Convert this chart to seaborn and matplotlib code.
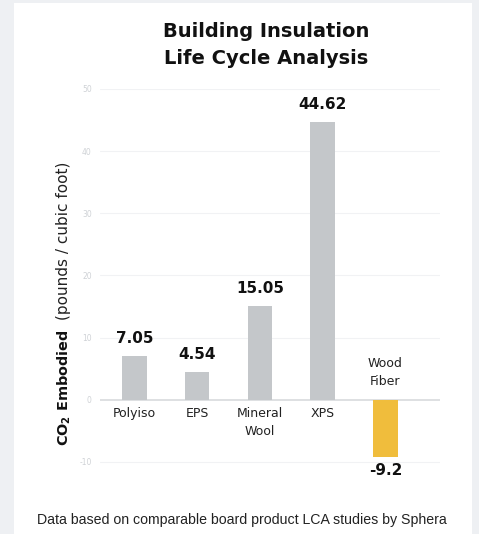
import matplotlib.pyplot as plt
import seaborn as sns
import pandas as pd
from matplotlib.patches import Rectangle

materials = ["Polyiso", "EPS", "Mineral\nWool", "XPS", "Wood\nFiber"]
co2 = [7.05, 4.54, 15.05, 44.62, -9.2]
value_labels = ["7.05", "4.54", "15.05", "44.62", "-9.2"]
bar_colors = ["#c4c7ca", "#c4c7ca", "#c4c7ca", "#c4c7ca", "#f0bd3c"]
yticks = [-10, 0, 10, 20, 30, 40, 50]

df = pd.DataFrame({"material": materials, "co2": co2})

sns.set_style("white")
plt.rcParams['font.family'] = ['DejaVu Sans']

fig = plt.figure(figsize=(4.79, 5.34), dpi=100, facecolor="#eef0f3")
# white card
fig.patches.append(Rectangle((14/479, 0), 458/479, 531/534, transform=fig.transFigure,
                             facecolor="white", edgecolor="none", zorder=-5))

ax = fig.add_axes([100/479, (534-470)/534, 340/479, (470-89)/534])
ax.set_facecolor("none")
ax.set_zorder(2)

sns.barplot(data=df, x="material", y="co2", hue="material", palette=bar_colors,
            legend=False, width=0.39, saturation=1, linewidth=0, ax=ax, zorder=3)

ax.set_ylim(-11.3, 50)
ax.set_xlim(-0.55, 4.87)
ax.set_yticks(yticks)
ax.set_yticklabels([str(t) for t in yticks], fontsize=5.5, color="#cfd2d6")
ax.tick_params(axis="y", length=0, pad=6)
ax.set_xticks([])
ax.set_xlabel("")
ax.set_ylabel("")
for t in yticks:
    ax.axhline(t, color="#d8dadd" if t == 0 else "#f1f2f4", lw=1.2 if t == 0 else 0.8, zorder=1)
sns.despine(ax=ax, left=True, bottom=True, top=True, right=True)

for i, (v, lab, name) in enumerate(zip(co2, value_labels, materials)):
    if v >= 0:
        ax.text(i, v + 1.6, lab, ha="center", va="bottom", fontsize=11, fontweight="bold", color="#111")
        ax.text(i, -1.1, name, ha="center", va="top", fontsize=9, color="#222", linespacing=1.5)
    else:
        ax.text(i, v - 1.0, lab, ha="center", va="top", fontsize=11, fontweight="bold", color="#111")
        ax.text(i, 1.9, name, ha="center", va="bottom", fontsize=9, color="#222", linespacing=1.5)

fig.text(266/479, 1 - 45/534, "Building Insulation\nLife Cycle Analysis", ha="center", va="center",
         fontsize=14, fontweight="bold", color="#111", linespacing=1.55)

fig.text(64/479, 1 - 388/534, r"CO$_\mathbf{2}$ Embodied", rotation=90, ha="center", va="center",
         fontsize=10.4, fontweight="bold", color="#111")
fig.text(64/479, 1 - 241/534, "(pounds / cubic foot)", rotation=90, ha="center", va="center",
         fontsize=11, color="#222")

fig.text(242/479, 1 - 520/534, "Data based on comparable board product LCA studies by Sphera",
         ha="center", va="center", fontsize=10.2, color="#222", family=['Liberation Sans'])

fig.savefig("out.png", dpi=100, facecolor=fig.get_facecolor())
